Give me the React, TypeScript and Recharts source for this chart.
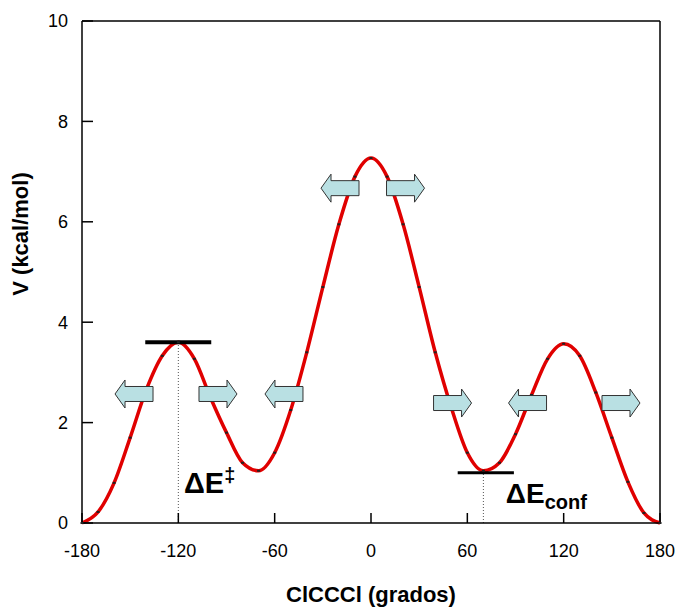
import { LineChart, Line, XAxis, YAxis, ReferenceLine, ReferenceDot } from 'recharts';

// torsion angle ClCCCl (degrees) and energy V (kcal/mol)
const angles = [
  -180, -170, -160, -150, -140, -130, -120, -110, -100, -90, -80, -70, -60, -50, -40, -30, -20, -10,
  0, 10, 20, 30, 40, 50, 60, 70, 80, 90, 100, 110, 120, 130, 140, 150, 160, 170, 180,
];
const energies = [
  0, 0.22, 0.8, 1.7, 2.65, 3.33, 3.6, 3.27, 2.5, 1.8, 1.2, 1.04, 1.4, 2.25, 3.4, 4.7, 5.95, 6.9,
  7.27, 6.9, 5.95, 4.7, 3.4, 2.3, 1.4, 1.04, 1.2, 1.77, 2.55, 3.27, 3.57, 3.33, 2.6, 1.7, 0.82, 0.2, 0,
];

const xTicks = [-180, -120, -60, 0, 60, 120, 180];
const yTicks = [0, 2, 4, 6, 8, 10];

// arrows: centre angle, energy, direction
const arrowX = [-147.6, -95.3, -54.2, -19.3, 21.5, 50.8, 97.5, 155.7];
const arrowY = [2.57, 2.57, 2.57, 6.67, 6.67, 2.39, 2.39, 2.39];
const arrowDir = ['left', 'right', 'left', 'left', 'right', 'right', 'left', 'right'];

const data = angles.map((a, i) => ({ angle: a, v: energies[i] }));

const Arrow = (props: any) => {
  const { cx, cy, dir } = props;
  const s = dir === 'left' ? -1 : 1;
  const half = 19;
  const head = 10;
  const sh = 7.5;
  const hh = 14;
  const x0 = cx - s * half;
  const xb = cx + s * (half - head);
  const xt = cx + s * half;
  const pts = [
    [x0, cy - sh], [xb, cy - sh], [xb, cy - hh], [xt, cy], [xb, cy + hh], [xb, cy + sh], [x0, cy + sh],
  ].map((p) => p.join(',')).join(' ');
  return <polygon points={pts} fill="#b9e0e3" stroke="#333" strokeWidth={1} />;
};

const Tiny = (props: any) => {
  const { cx, cy } = props;
  if (cx == null || cy == null) return null;
  return <rect x={cx - 1.5} y={cy - 1} width={3} height={2} fill="#222" />;
};

export default function App() {
  return (
    <div style={{ position: 'absolute', left: 0, top: 0, background: '#fff' }}>
      <LineChart
        width={682}
        height={610}
        data={data}
        margin={{ top: 21, right: 22, left: 22, bottom: 57 }}
        style={{ fontFamily: 'Liberation Sans, Arial, sans-serif' }}
      >
        <XAxis
          dataKey="angle"
          type="number"
          domain={[-180, 180]}
          ticks={xTicks}
          height={30}
          tickSize={-10}
          tickMargin={31}
          axisLine={{ stroke: '#000', strokeWidth: 1.5 }}
          tickLine={{ stroke: '#000', strokeWidth: 1.5 }}
          tick={{ fill: '#000', fontSize: 18 }}
          label={{
            value: 'ClCCCl (grados)',
            position: 'bottom',
            offset: 33,
            style: { fill: '#000', fontSize: 22, fontWeight: 'bold' },
          }}
        />
        <YAxis
          type="number"
          domain={[0, 10]}
          ticks={yTicks}
          width={60}
          tickSize={-11}
          tickMargin={25}
          axisLine={{ stroke: '#000', strokeWidth: 1.5 }}
          tickLine={{ stroke: '#000', strokeWidth: 1.5 }}
          tick={{ fill: '#000', fontSize: 18 }}
          label={{
            value: 'V (kcal/mol)',
            angle: -90,
            position: 'insideLeft',
            offset: -2,
            dy: -38,
            style: { fill: '#000', fontSize: 22, fontWeight: 'bold', textAnchor: 'middle' },
          }}
        />
        <ReferenceLine y={10} stroke="#000" strokeWidth={1.5} />
        <ReferenceLine x={180} stroke="#000" strokeWidth={1.5} />

        <ReferenceLine
          segment={[{ x: -120, y: 0 }, { x: -120, y: 3.6 }]}
          stroke="#555"
          strokeDasharray="1 2"
        />
        <ReferenceLine
          segment={[{ x: 70, y: 0 }, { x: 70, y: 1.0 }]}
          stroke="#555"
          strokeDasharray="1 2"
        />

        <Line
          type="monotone"
          dataKey="v"
          stroke="#e00000"
          strokeWidth={3.5}
          dot={<Tiny />}
          activeDot={false}
          isAnimationActive={false}
        />

        <ReferenceLine
          segment={[{ x: -140.6, y: 3.6 }, { x: -99.5, y: 3.6 }]}
          stroke="#000"
          strokeWidth={4}
        />
        <ReferenceLine
          segment={[{ x: 54, y: 1.0 }, { x: 89, y: 1.0 }]}
          stroke="#000"
          strokeWidth={3}
        />

        {arrowX.map((x, i) => (
          <ReferenceDot
            key={i}
            x={x}
            y={arrowY[i]}
            r={0}
            shape={(p: any) => <Arrow {...p} dir={arrowDir[i]} />}
          />
        ))}

        <ReferenceDot
          x={-116.5}
          y={0.6}
          r={0}
          shape={(p: any) => (
            <text x={p.cx} y={p.cy} fontSize={29} fontWeight="bold" fill="#000" fontFamily="Liberation Sans, Arial, sans-serif">
              ΔE<tspan fontSize={20} dy={-11}>‡</tspan>
            </text>
          )}
        />
        <ReferenceDot
          x={84}
          y={0.4}
          r={0}
          shape={(p: any) => (
            <text x={p.cx} y={p.cy} fontSize={28} fontWeight="bold" fill="#000" fontFamily="Liberation Sans, Arial, sans-serif">
              ΔE<tspan fontSize={20} dy={6}>conf</tspan>
            </text>
          )}
        />
      </LineChart>
    </div>
  );
}
